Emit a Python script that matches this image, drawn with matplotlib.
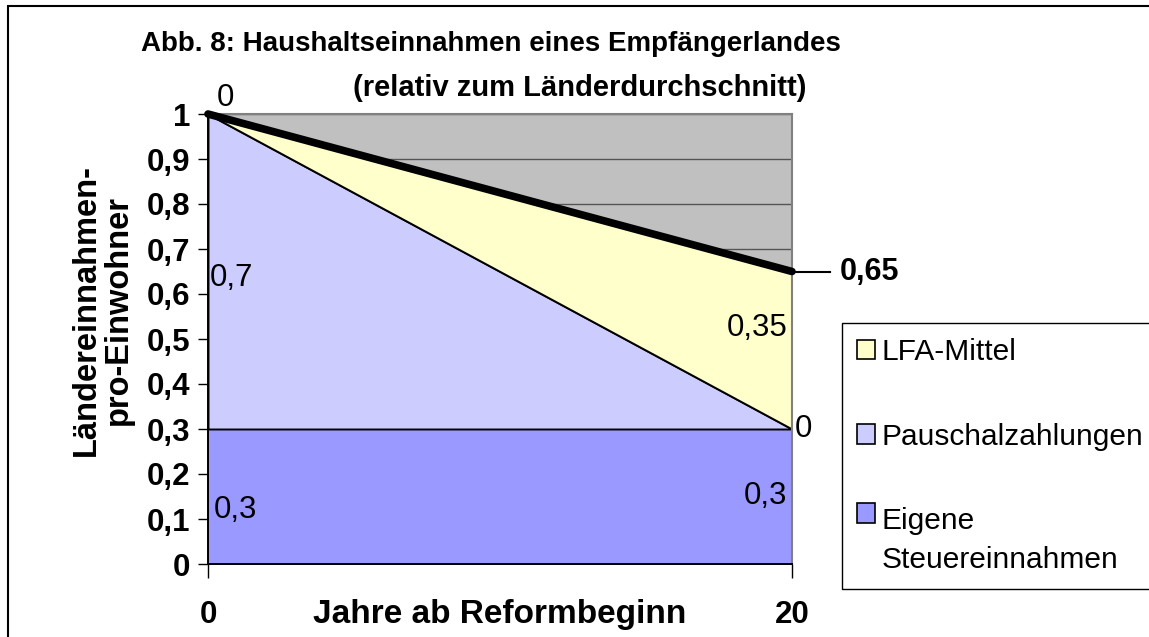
import matplotlib.pyplot as plt
from matplotlib.patches import Patch, Rectangle
from matplotlib.legend_handler import HandlerPatch

plt.rcParams['font.family'] = ['Liberation Sans', 'DejaVu Sans']

# Werte aus der Abbildung
jahre = [0, 20]
eigene = [0.3, 0.3]
pauschal = [0.7, 0.0]
lfa = [0.0, 0.35]
reihen = ['LFA-Mittel', 'Pauschalzahlungen', 'Eigene\nSteuereinnahmen']
farben = {'LFA-Mittel': '#FFFFCC', 'Pauschalzahlungen': '#CCCCFF',
          'Eigene\nSteuereinnahmen': '#9999FF'}
yticks = [0, 0.1, 0.2, 0.3, 0.4, 0.5, 0.6, 0.7, 0.8, 0.9, 1.0]

gesamt = [e + p + l for e, p, l in zip(eigene, pauschal, lfa)]


def komma(v):
    return ('%g' % round(v, 2)).replace('.', ',')


class RaisedPatch(HandlerPatch):
    # Kästchen bei zweizeiligem Text an die erste Zeile setzen
    def __init__(self, shift=0.0, **kw):
        super().__init__(**kw)
        self.shift = shift

    def create_artists(self, legend, orig_handle, xdescent, ydescent,
                       width, height, fontsize, trans):
        p = Rectangle((-xdescent, -ydescent + self.shift * fontsize), width, height)
        self.update_prop(p, orig_handle, legend)
        p.set_transform(trans)
        return [p]


fig = plt.figure(figsize=(11.49, 6.37), dpi=100)
ax = fig.add_axes([208 / 1149, 1 - 564 / 637, (792 - 208) / 1149, 450 / 637])

ax.set_facecolor('#C0C0C0')
ax.set_axisbelow(True)
ax.yaxis.grid(True, color='#555555', linewidth=1)

ax.stackplot(jahre, eigene, pauschal, lfa,
             colors=[farben[reihen[2]], farben[reihen[1]], farben[reihen[0]]],
             edgecolor='black', linewidth=1.4, zorder=2)
ax.plot(jahre, gesamt, color='black', linewidth=5.5, solid_capstyle='round', zorder=4,
        clip_on=False)

ax.set_xlim(0, 20)
ax.set_ylim(0, 1)
ax.set_yticks(yticks)
ax.set_yticklabels([komma(v) for v in yticks])
ax.set_xticks(jahre)
ax.set_xticklabels([str(j) for j in jahre])
ax.tick_params(axis='y', direction='out', length=7, width=1, labelsize=22.5, pad=6)
ax.tick_params(axis='x', direction='out', length=10, width=1, labelsize=22.5, pad=16)
for lab in ax.get_xticklabels() + ax.get_yticklabels():
    lab.set_fontweight('bold')

for s in ['left', 'bottom']:
    ax.spines[s].set_color('black')
    ax.spines[s].set_linewidth(1.4)
for s in ['top', 'right']:
    ax.spines[s].set_color('#808080')
    ax.spines[s].set_linewidth(1.5)

ax.set_xlabel('Jahre ab Reformbeginn', fontsize=24, fontweight='bold')
ax.xaxis.set_label_coords(0.5, -0.077)

fig.text(0.089, 0.513, 'Ländereinnahmen-\npro-Einwohner', rotation=90,
         ha='center', va='center', multialignment='center',
         fontsize=23.5, fontweight='bold', linespacing=1.05)

# Datenbeschriftungen
ax.text(jahre[0] + 0.3, gesamt[0] + 0.003, komma(lfa[0]), fontsize=22.5,
        ha='left', va='bottom', zorder=5)
ax.text(jahre[0] + 0.05, eigene[0] + pauschal[0] / 2 - 0.015, komma(pauschal[0]),
        fontsize=22.5, ha='left', va='center', zorder=5)
ax.text(jahre[0] + 0.2, eigene[0] / 2 - 0.03, komma(eigene[0]), fontsize=22.5,
        ha='left', va='center', zorder=5)
ax.text(jahre[1] - 0.15, eigene[1] + pauschal[1] + lfa[1] / 2 + 0.05, komma(lfa[1]),
        fontsize=22.5, ha='right', va='center', zorder=5)
ax.text(jahre[1] + 0.08, eigene[1] + pauschal[1], komma(pauschal[1]), fontsize=22.5,
        ha='left', va='center', zorder=5, clip_on=False)
ax.text(jahre[1] - 0.15, eigene[1] / 2, komma(eigene[1]), fontsize=22.5,
        ha='right', va='center', zorder=5)

# Gesamtwert mit Führungslinie
ax.plot([jahre[1], jahre[1] + 1.3], [gesamt[1], gesamt[1]], color='black',
        linewidth=1.5, clip_on=False, zorder=3)
ax.text(jahre[1] + 1.65, gesamt[1], komma(gesamt[1]), fontsize=22,
        fontweight='bold', ha='left', va='center')

# Titel
fig.text(0.427, 1 - 44 / 637, 'Abb. 8: Haushaltseinnahmen eines Empfängerlandes',
         fontsize=20, fontweight='bold', ha='center', va='center')
fig.text(0.505, 1 - 88 / 637, '(relativ zum Länderdurchschnitt)',
         fontsize=21, fontweight='bold', ha='center', va='center')

# Legende
handles = [Patch(facecolor=farben[r], edgecolor='black', linewidth=1.2) for r in reihen]
leg = fig.legend(handles, reihen, loc='upper left',
                 bbox_to_anchor=(842 / 1149, 1 - 323 / 637), borderaxespad=0,
                 fancybox=False, edgecolor='black', framealpha=1,
                 fontsize=21.5, handlelength=0.62, handleheight=0.62,
                 handletextpad=0.2, labelspacing=1.9, borderpad=0.5,
                 handler_map={handles[2]: RaisedPatch(shift=0.95)})
leg.get_frame().set_linewidth(1)
for t in leg.get_texts():
    t.set_linespacing(1.5)

# Rahmen um die ganze Abbildung
fig.patches.append(Rectangle((8 / 1149, -0.1), 1.2, 1 - 6 / 637 + 0.1,
                             transform=fig.transFigure, fill=False,
                             edgecolor='black', linewidth=1.5))

fig.savefig('out.png', dpi=100)
